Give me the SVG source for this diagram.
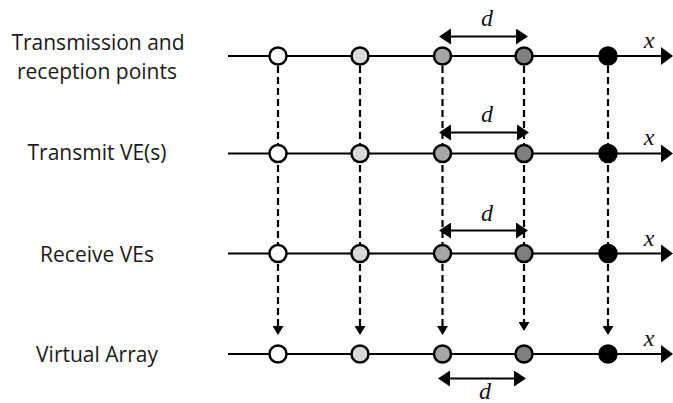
<svg xmlns="http://www.w3.org/2000/svg" width="673" height="403" viewBox="0 0 673 403">
  <defs>
    <style>
      .label { font-family: "Open Sans", "Liberation Sans", sans-serif; font-size: 21px; fill: #1a1a1a; text-anchor: middle; }
      .math { font-family: "Liberation Serif", "DejaVu Serif", serif; font-style: italic; font-size: 24px; fill: #111; text-anchor: middle; }
      .axis { stroke: #000; stroke-width: 2; fill: none; }
      .drop { stroke: #000; stroke-width: 2.2; stroke-dasharray: 7 4; fill: none; }
      .span { stroke: #000; stroke-width: 2; fill: none; }
      .pt { stroke: #000; stroke-width: 2.5; }
      .c1 { fill: #ffffff; }
      .c2 { fill: #d9d9d9; }
      .c3 { fill: #a6a6a6; }
      .c4 { fill: #7f7f7f; }
      .c5 { fill: #000000; }
    </style>
    <marker id="axisHead" viewBox="0 0 12 18" refX="1" refY="9" markerWidth="12" markerHeight="18" markerUnits="userSpaceOnUse" orient="auto">
      <path d="M0,0 L12,9 L0,18 Z" fill="#000"/>
    </marker>
    <marker id="spanHead" viewBox="0 0 12 16" refX="1" refY="8" markerWidth="12" markerHeight="16" markerUnits="userSpaceOnUse" orient="auto-start-reverse">
      <path d="M0,0 L12,8 L0,16 Z" fill="#000"/>
    </marker>
    <marker id="dropHead" viewBox="0 0 9 11" refX="1" refY="5.5" markerWidth="9" markerHeight="11" markerUnits="userSpaceOnUse" orient="auto">
      <path d="M0,0 L9,5.5 L0,11 Z" fill="#000"/>
    </marker>
  </defs>

  <!-- row labels -->
  <g id="label-trp">
    <text class="label" x="98" y="50">Transmission and</text>
    <text class="label" x="97" y="79">reception points</text>
  </g>
  <g id="label-tx">
    <text class="label" x="97" y="160">Transmit VE(s)</text>
  </g>
  <g id="label-rx">
    <text class="label" x="97" y="262">Receive VEs</text>
  </g>
  <g id="label-va">
    <text class="label" x="97" y="362">Virtual Array</text>
  </g>

  <!-- connectors: axes, projection lines, spacing arrows -->
  <g id="connectors">
    <line class="axis" x1="228" y1="56" x2="662" y2="56" marker-end="url(#axisHead)"/>
    <line class="axis" x1="228" y1="153.5" x2="662" y2="153.5" marker-end="url(#axisHead)"/>
    <line class="axis" x1="228" y1="253.5" x2="662" y2="253.5" marker-end="url(#axisHead)"/>
    <line class="axis" x1="228" y1="354" x2="662" y2="354" marker-end="url(#axisHead)"/>

    <line class="drop" x1="278" y1="66" x2="278" y2="327" marker-end="url(#dropHead)"/>
    <line class="drop" x1="360" y1="66" x2="360" y2="327" marker-end="url(#dropHead)"/>
    <line class="drop" x1="442.5" y1="66" x2="442.5" y2="327" marker-end="url(#dropHead)"/>
    <line class="drop" x1="524" y1="66" x2="524" y2="323" marker-end="url(#dropHead)"/>
    <line class="drop" x1="608" y1="66" x2="608" y2="327" marker-end="url(#dropHead)"/>

    <line class="span" x1="450" y1="36.5" x2="517" y2="36.5" marker-start="url(#spanHead)" marker-end="url(#spanHead)"/>
    <line class="span" x1="450" y1="132.5" x2="518" y2="132.5" marker-start="url(#spanHead)" marker-end="url(#spanHead)"/>
    <line class="span" x1="450" y1="230.5" x2="517" y2="230.5" marker-start="url(#spanHead)" marker-end="url(#spanHead)"/>
    <line class="span" x1="449" y1="378.5" x2="515" y2="378.5" marker-start="url(#spanHead)" marker-end="url(#spanHead)"/>
  </g>

  <!-- axis and spacing symbols -->
  <g id="symbols">
    <text class="math" x="649" y="48">x</text>
    <text class="math" x="649" y="145">x</text>
    <text class="math" x="649" y="246">x</text>
    <text class="math" x="649" y="346">x</text>
    <text class="math" x="487" y="26">d</text>
    <text class="math" x="487" y="122">d</text>
    <text class="math" x="487" y="221">d</text>
    <text class="math" x="485" y="399">d</text>
  </g>

  <!-- element positions -->
  <g id="row-trp">
    <circle class="pt c1" cx="278" cy="56" r="8.5"/>
    <circle class="pt c2" cx="360" cy="56" r="8.5"/>
    <circle class="pt c3" cx="442.5" cy="56" r="8.5"/>
    <circle class="pt c4" cx="524" cy="56" r="8.5"/>
    <circle class="pt c5" cx="608" cy="56" r="8.5"/>
  </g>
  <g id="row-tx">
    <circle class="pt c1" cx="278" cy="153.5" r="8.5"/>
    <circle class="pt c2" cx="360" cy="153.5" r="8.5"/>
    <circle class="pt c3" cx="442.5" cy="153.5" r="8.5"/>
    <circle class="pt c4" cx="524" cy="153.5" r="8.5"/>
    <circle class="pt c5" cx="608" cy="153.5" r="8.5"/>
  </g>
  <g id="row-rx">
    <circle class="pt c1" cx="278" cy="253.5" r="8.5"/>
    <circle class="pt c2" cx="360" cy="253.5" r="8.5"/>
    <circle class="pt c3" cx="442.5" cy="253.5" r="8.5"/>
    <circle class="pt c4" cx="524" cy="253.5" r="8.5"/>
    <circle class="pt c5" cx="608" cy="253.5" r="8.5"/>
  </g>
  <g id="row-va">
    <circle class="pt c1" cx="278" cy="354" r="8.5"/>
    <circle class="pt c2" cx="360" cy="354" r="8.5"/>
    <circle class="pt c3" cx="442.5" cy="354" r="8.5"/>
    <circle class="pt c4" cx="524" cy="354" r="8.5"/>
    <circle class="pt c5" cx="608" cy="354" r="8.5"/>
  </g>
</svg>
